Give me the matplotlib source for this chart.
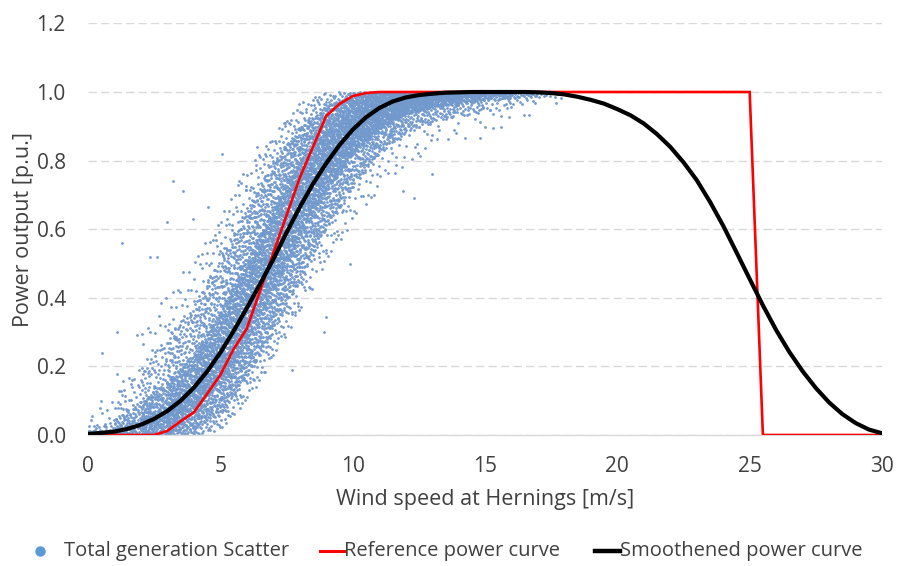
import numpy as np
import matplotlib
matplotlib.use("Agg")
import matplotlib.pyplot as plt
from matplotlib.lines import Line2D

# ---------------------------------------------------------------------------
# Reference (manufacturer) power curve, per unit
ref_speed = [0, 2.5, 3, 3.5, 4, 4.5, 5, 5.5, 6, 6.5, 7, 7.5, 8, 8.5, 9, 9.5,
             10, 10.5, 11, 25, 25.5, 30]
ref_power = [0, 0, 0.012, 0.04, 0.066, 0.12, 0.175, 0.25, 0.31, 0.42, 0.53,
             0.64, 0.75, 0.84, 0.93, 0.965, 0.988, 0.997, 1.0, 1.0, 0.0, 0.0]

# Smoothened power curve, per unit
smooth_speed = [0, 0.5, 1, 1.5, 2, 2.5, 3, 3.5, 4, 4.5, 5, 5.5, 6, 6.5, 7, 7.5,
                8, 8.5, 9, 9.5, 10, 10.5, 11, 11.5, 12, 12.5, 13, 13.5, 14,
                14.5, 15, 15.5, 16, 16.5, 17, 17.5, 18, 18.5, 19, 19.5, 20,
                20.5, 21, 21.5, 22, 22.5, 23, 23.5, 24, 24.5, 25, 25.5, 26,
                26.5, 27, 27.5, 28, 28.5, 29, 29.5, 30]
smooth_power = [0.003, 0.006, 0.01, 0.018, 0.03, 0.047, 0.07, 0.1, 0.138,
                0.185, 0.24, 0.303, 0.37, 0.44, 0.512, 0.59, 0.664, 0.732,
                0.792, 0.845, 0.89, 0.926, 0.953, 0.972, 0.984, 0.991, 0.995,
                0.998, 0.999, 1.0, 1.0, 1.0, 1.0, 1.0, 0.999, 0.997, 0.993,
                0.986, 0.977, 0.966, 0.95, 0.932, 0.908, 0.877, 0.84, 0.795,
                0.743, 0.68, 0.61, 0.533, 0.455, 0.378, 0.306, 0.242, 0.186,
                0.137, 0.095, 0.061, 0.035, 0.016, 0.005]

# Hourly generation scatter, summarised per wind-speed node (m/s):
# hours recorded in each 1 m/s interval [k, k+1) and the spread of power
scatter_nodes = [0, 1, 2, 3, 4, 5, 6, 7, 8, 9, 10, 11, 12, 13, 14, 15, 16, 17, 18]
hours_per_interval = [50, 160, 340, 570, 760, 900, 960, 960, 880, 780, 640,
                      500, 360, 250, 160, 90, 45, 15]
quantile_levels = [0.0, 0.03, 0.2, 0.5, 0.8, 0.97, 1.0]
power_q00 = [0, 0, 0, 0, 0, 0.01, 0.10, 0.22, 0.36, 0.50, 0.62, 0.72, 0.78,
             0.83, 0.86, 0.88, 0.90, 0.93, 0.97]
power_q03 = [0, 0, 0, 0.005, 0.015, 0.06, 0.17, 0.30, 0.45, 0.60, 0.72, 0.82,
             0.88, 0.91, 0.93, 0.94, 0.95, 0.97, 0.98]
power_q20 = [0, 0.005, 0.018, 0.038, 0.078, 0.15, 0.27, 0.42, 0.57, 0.71,
             0.82, 0.89, 0.935, 0.955, 0.965, 0.975, 0.98, 0.985, 0.99]
power_q50 = [0.006, 0.02, 0.05, 0.088, 0.145, 0.25, 0.39, 0.54, 0.69, 0.80,
             0.885, 0.935, 0.965, 0.978, 0.985, 0.99, 0.99, 0.993, 0.995]
power_q80 = [0.015, 0.045, 0.1, 0.16, 0.235, 0.36, 0.51, 0.66, 0.80, 0.89,
             0.945, 0.975, 0.988, 0.993, 0.996, 0.997, 0.998, 0.999, 1.0]
power_q97 = [0.045, 0.11, 0.2, 0.29, 0.38, 0.52, 0.66, 0.80, 0.90, 0.96,
             0.99, 0.998, 1.0, 1.0, 1.0, 1.0, 1.0, 1.0, 1.0]
power_q100 = [0.09, 0.2, 0.31, 0.42, 0.52, 0.64, 0.78, 0.88, 0.97, 1.0, 1.0,
              1.0, 1.0, 1.0, 1.0, 1.0, 1.0, 1.0, 1.0]

# Isolated hours lying away from the main cloud
outlier_speed = [0.45, 0.53, 1.1, 1.3, 2.35, 2.6, 3.0, 3.2, 3.6, 3.97, 4.55,
                 5.05, 5.7, 6.4, 7.45, 7.7, 8.9, 9.0, 9.9, 11.9, 12.3, 13.0,
                 13.9, 14.8, 15.3, 15.6, 17.7]
outlier_power = [0.08, 0.24, 0.30, 0.56, 0.52, 0.52, 0.62, 0.74, 0.71, 0.63,
                 0.665, 0.82, 0.74, 0.84, 0.91, 0.19, 0.30, 0.345, 0.50, 0.71,
                 0.69, 0.76, 0.88, 0.865, 0.895, 0.93, 0.968]

x_ticks = [0, 5, 10, 15, 20, 25, 30]
y_ticks = [0.0, 0.2, 0.4, 0.6, 0.8, 1.0, 1.2]


def radical_inverse(index, base):
    """Van der Corput radical inverse of integer indices."""
    index = np.asarray(index, dtype=np.int64).copy()
    result = np.zeros(index.shape, dtype=float)
    f = 1.0
    while np.any(index > 0):
        f /= base
        result += f * (index % base)
        index //= base
    return result


def cloud_points():
    """Lay the recorded hours out evenly inside the observed spread."""
    total = int(np.sum(hours_per_interval))
    idx = np.arange(1, total + 1)
    u_speed = radical_inverse(idx, 2)
    u_power = radical_inverse(idx, 3)
    cum = np.concatenate([[0], np.cumsum(hours_per_interval)]) / total
    edges = np.arange(len(hours_per_interval) + 1)
    x = np.interp(u_speed, cum, edges)
    quantiles = np.array([power_q00, power_q03, power_q20, power_q50,
                          power_q80, power_q97, power_q100])
    q_at_x = np.array([np.interp(x, scatter_nodes, row) for row in quantiles])
    y = np.array([np.interp(u_power[i], quantile_levels, q_at_x[:, i])
                  for i in range(total)])
    return x, y


plt.rcParams['font.family'] = ['Open Sans', 'DejaVu Sans']
text_color = '#404040'
dot_color = '#7299cc'

fig = plt.figure(figsize=(8.98, 5.66), dpi=100)
ax = fig.add_axes([88 / 898, 131 / 566, 794 / 898, 411.6 / 566])

cx, cy = cloud_points()
ax.scatter(cx, cy, s=4, color=dot_color, linewidths=0, zorder=2)
ax.scatter(outlier_speed, outlier_power, s=4, color=dot_color,
           linewidths=0, zorder=2)

ax.plot(ref_speed, ref_power, color='#ff0000', lw=1.9, zorder=3,
        solid_joinstyle='miter')
ax.plot(smooth_speed, smooth_power, color='#000000', lw=3.0, zorder=4,
        solid_joinstyle='round')

ax.set_xlim(0, 30)
ax.set_ylim(0, 1.2)
ax.set_xticks(x_ticks)
ax.set_yticks(y_ticks)
ax.set_yticklabels([f"{v:.1f}" for v in y_ticks])
ax.tick_params(axis='both', length=0, labelsize=15, colors=text_color)
ax.tick_params(axis='y', pad=16)
ax.tick_params(axis='x', pad=15)

ax.grid(axis='y', color='#d9d9d9', linestyle=(0, (6, 3)), linewidth=1.0,
        zorder=0)
for side in ['top', 'right', 'left']:
    ax.spines[side].set_visible(False)
ax.spines['bottom'].set_color('#d9d9d9')
ax.spines['bottom'].set_linewidth(1.0)
ax.set_axisbelow(True)

ax.set_xlabel('Wind speed at Hernings [m/s]', fontsize=15.5, color=text_color,
              labelpad=9)
ax.set_ylabel('Power output [p.u.]', fontsize=15.5, color=text_color,
              labelpad=2)

# Legend row beneath the axis title
legend_y = 15 / 566
fig.add_artist(Line2D([40 / 898], [legend_y], marker='o', markersize=6.5,
                      color='#5b9bd5', linestyle='none'))
fig.text(64 / 898, legend_y, 'Total generation Scatter', fontsize=14.5,
         color=text_color, va='center', ha='left')
fig.add_artist(Line2D([320 / 898, 344 / 898], [legend_y, legend_y],
                      color='#ff0000', lw=2.2))
fig.text(344 / 898, legend_y, 'Reference power curve', fontsize=14.5,
         color=text_color, va='center', ha='left')
fig.add_artist(Line2D([595 / 898, 620 / 898], [legend_y, legend_y],
                      color='#000000', lw=3.2))
fig.text(620 / 898, legend_y, 'Smoothened power curve', fontsize=14.5,
         color=text_color, va='center', ha='left')

fig.savefig('out.png', dpi=100)
